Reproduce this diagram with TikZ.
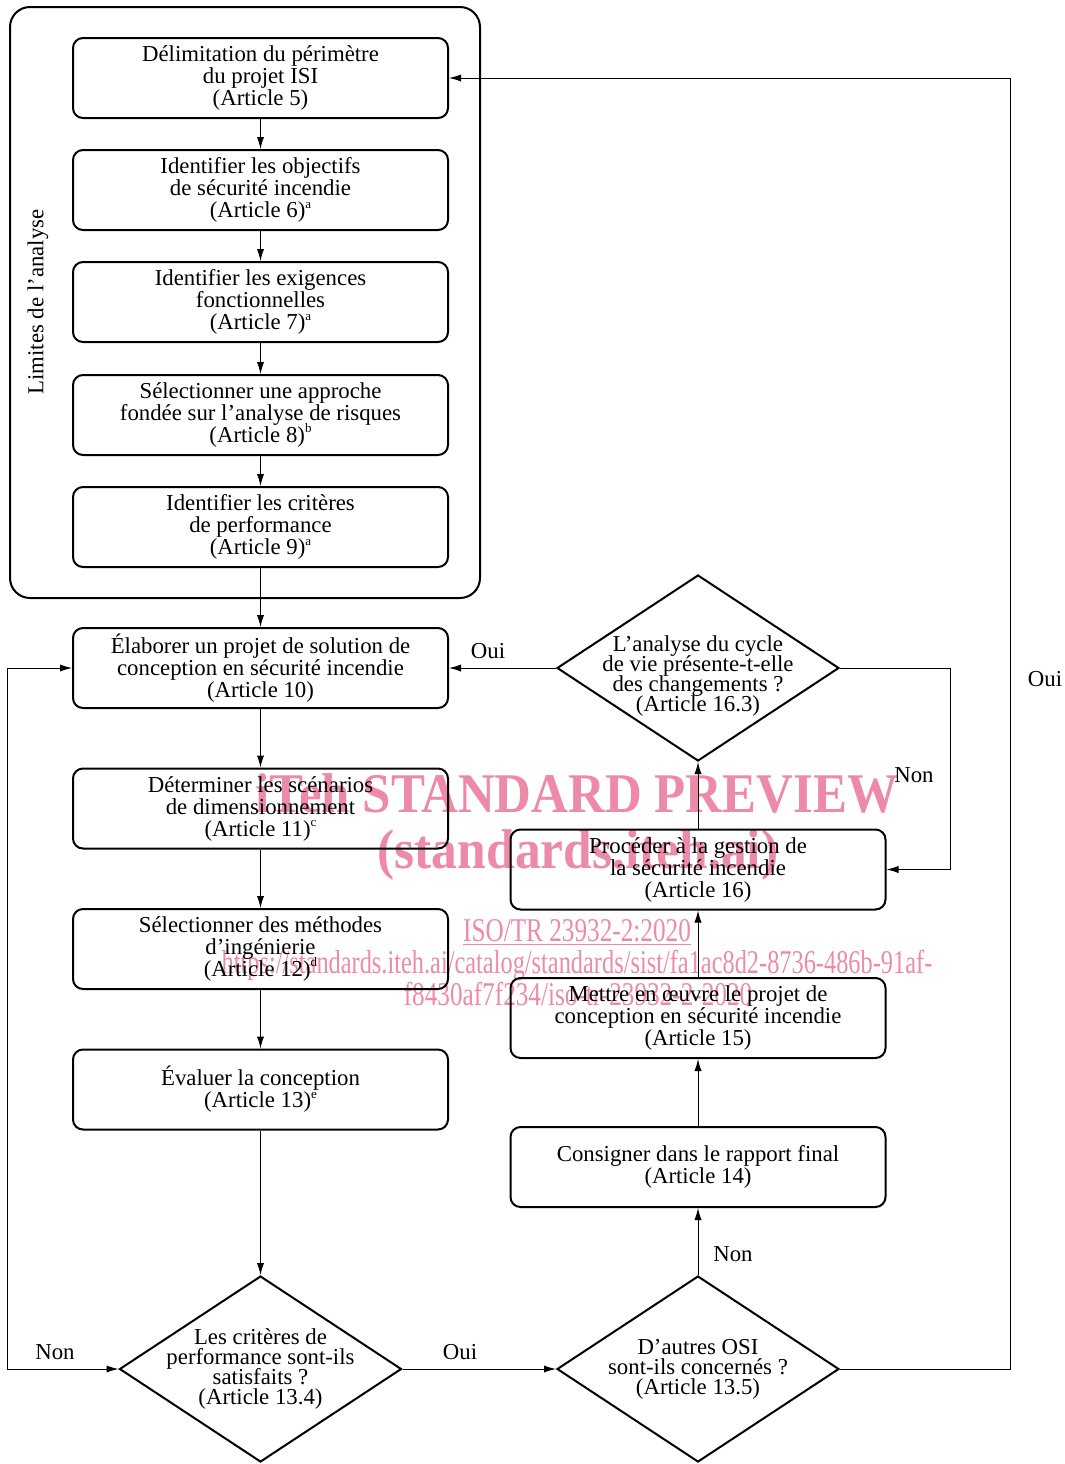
\documentclass[tikz,border=0pt]{standalone}
\usepackage{fontspec}
\setmainfont{Liberation Serif}
\usepackage{graphicx}
\usetikzlibrary{shapes.geometric,arrows.meta}
\definecolor{wm}{RGB}{236,138,168}
\newcommand{\supl}[1]{\raisebox{0.42em}{\fontsize{6.5}{6.5}\selectfont #1}}
\newcommand{\tightls}{\setlength{\lineskiplimit}{-6pt}\setlength{\lineskip}{0pt}}
\begin{document}
\begin{tikzpicture}[x=0.5pt,y=-0.5pt,
  box/.style={draw,line width=1pt,rounded corners=5pt,minimum width=187.5pt,minimum height=40pt,align=center,inner sep=0pt,font=\fontsize{11.4}{11}\selectfont\tightls},
  dia/.style={draw,diamond,line width=1pt,minimum width=141pt,minimum height=93pt,inner sep=0pt},
  dtext/.style={align=center,inner sep=0pt,font=\fontsize{11.4}{10}\selectfont\tightls},
  lab/.style={inner sep=0pt,font=\fontsize{11.4}{11}\selectfont},
  arr/.style={line width=0.5pt,-{Latex[length=6pt,width=3.6pt]}},
  wmbig/.style={inner sep=0pt,anchor=base,text=wm,font=\fontsize{28}{28}\selectfont\bfseries},
  wmsmall/.style={inner sep=0pt,anchor=base,text=wm,font=\fontsize{16.6}{16.6}\selectfont}]
\useasboundingbox (0,0) rectangle (1065,1464);

% watermark (behind)
\node[wmbig] (w1) at (577,812) {\scalebox{0.91}[1]{iTeh STANDARD PREVIEW}};
\node[wmbig] (w2) at (578,868) {\scalebox{0.92}[1]{(standards.iteh.ai)}};
\node[wmsmall] (w3) at (577,941) {\scalebox{0.76}[1]{\underline{ISO/TR 23932-2:2020}}};
\node[wmsmall] (w4) at (577,973) {\scalebox{0.734}[1]{https://standards.iteh.ai/catalog/standards/sist/fa1ac8d2-8736-486b-91af-}};
\node[wmsmall] (w5) at (578,1005) {\scalebox{0.76}[1]{f8430af7f234/iso-tr-23932-2-2020}};

% outer frame
\node[draw,line width=1pt,rounded corners=10pt,minimum width=235pt,minimum height=295.5pt,inner sep=0pt] (frame) at (245,302.5) {};
\node[lab,rotate=90] (lim) at (38,302) {Limites de l’analyse};

% left column
\node[box] (b1) at (260.5,78) {Délimitation du périmètre\\du projet ISI\\(Article 5)};
\node[box] (b2) at (260.5,190) {Identifier les objectifs\\de sécurité incendie\\(Article 6)\supl{a}};
\node[box] (b3) at (260.5,302) {Identifier les exigences\\fonctionnelles\\(Article 7)\supl{a}};
\node[box] (b4) at (260.5,415) {Sélectionner une approche\\fondée sur l’analyse de risques\\(Article 8)\supl{b}};
\node[box] (b5) at (260.5,527) {Identifier les critères\\de performance\\(Article 9)\supl{a}};
\node[box] (b6) at (260.5,668) {Élaborer un projet de solution de\\conception en sécurité incendie\\(Article 10)};
\node[box] (b7) at (260.5,808.5) {Déterminer les scénarios\\de dimensionnement\\(Article 11)\supl{c}};
\node[box] (b8) at (260.5,949) {Sélectionner des méthodes\\d’ingénierie\\(Article 12)\supl{d}};
\node[box] (b9) at (260.5,1089.5) {Évaluer la conception\\(Article 13)\supl{e}};

% right column
\node[box] (r1) at (698,869.5) {Procéder à la gestion de\\la sécurité incendie\\(Article 16)};
\node[box] (r2) at (698,1018) {Mettre en œuvre le projet de\\conception en sécurité incendie\\(Article 15)};
\node[box] (r3) at (698,1167) {Consigner dans le rapport final\\(Article 14)};

% diamonds
\node[dia] (d1) at (260.5,1369) {};
\node[dtext] (d1t) at (260.5,1369) {Les critères de\\performance sont-ils\\satisfaits ?\\(Article 13.4)};
\node[dia] (d2) at (698,1369) {};
\node[dtext] (d2t) at (698,1369) {D’autres OSI\\sont-ils concernés ?\\(Article 13.5)};
\node[dia] (d3) at (698,668) {};
\node[dtext] (d3t) at (698,676) {L’analyse du cycle\\de vie présente-t-elle\\des changements ?\\(Article 16.3)};

% helper coordinates
\coordinate (cl) at (7,1369);
\coordinate (xr1) at (950,0);
\coordinate (xr2) at (1010,0);

% left column arrows
\draw[arr] (b1) -- (b2);
\draw[arr] (b2) -- (b3);
\draw[arr] (b3) -- (b4);
\draw[arr] (b4) -- (b5);
\draw[arr] (b5) -- (b6);
\draw[arr] (b6) -- (b7);
\draw[arr] (b7) -- (b8);
\draw[arr] (b8) -- (b9);
\draw[arr] (b9) -- (d1);

% Non loop back to b6
\draw[arr] (cl) -- (d1.west);
\draw[arr] (cl) |- (b6.west);
\node[lab] (lnon1) at (55,1352) {Non};

% Oui d1 -> d2
\draw[arr] (d1.east) -- (d2.west);
\node[lab] (loui1) at (460,1352) {Oui};

% right column
\draw[arr] (d2.north) -- (r3.south);
\node[lab] (lnon2) at (733,1254) {Non};
\draw[arr] (r3) -- (r2);
\draw[arr] (r2) -- (r1);
\draw[arr] (r1) -- (d3.south);

% d3 Oui -> b6
\draw[arr] (d3.west) -- (b6.east);
\node[lab] (loui2) at (488,651) {Oui};

% d3 Non -> r1
\draw[arr] (d3.east) -- (d3.east -| xr1) |- (r1.east);
\node[lab] (lnon3) at (914,775) {Non};

% d2 Oui -> b1
\draw[arr] (d2.east) -- (d2.east -| xr2) |- (b1.east);
\node[lab] (loui3) at (1045,679) {Oui};
\end{tikzpicture}
\end{document}
